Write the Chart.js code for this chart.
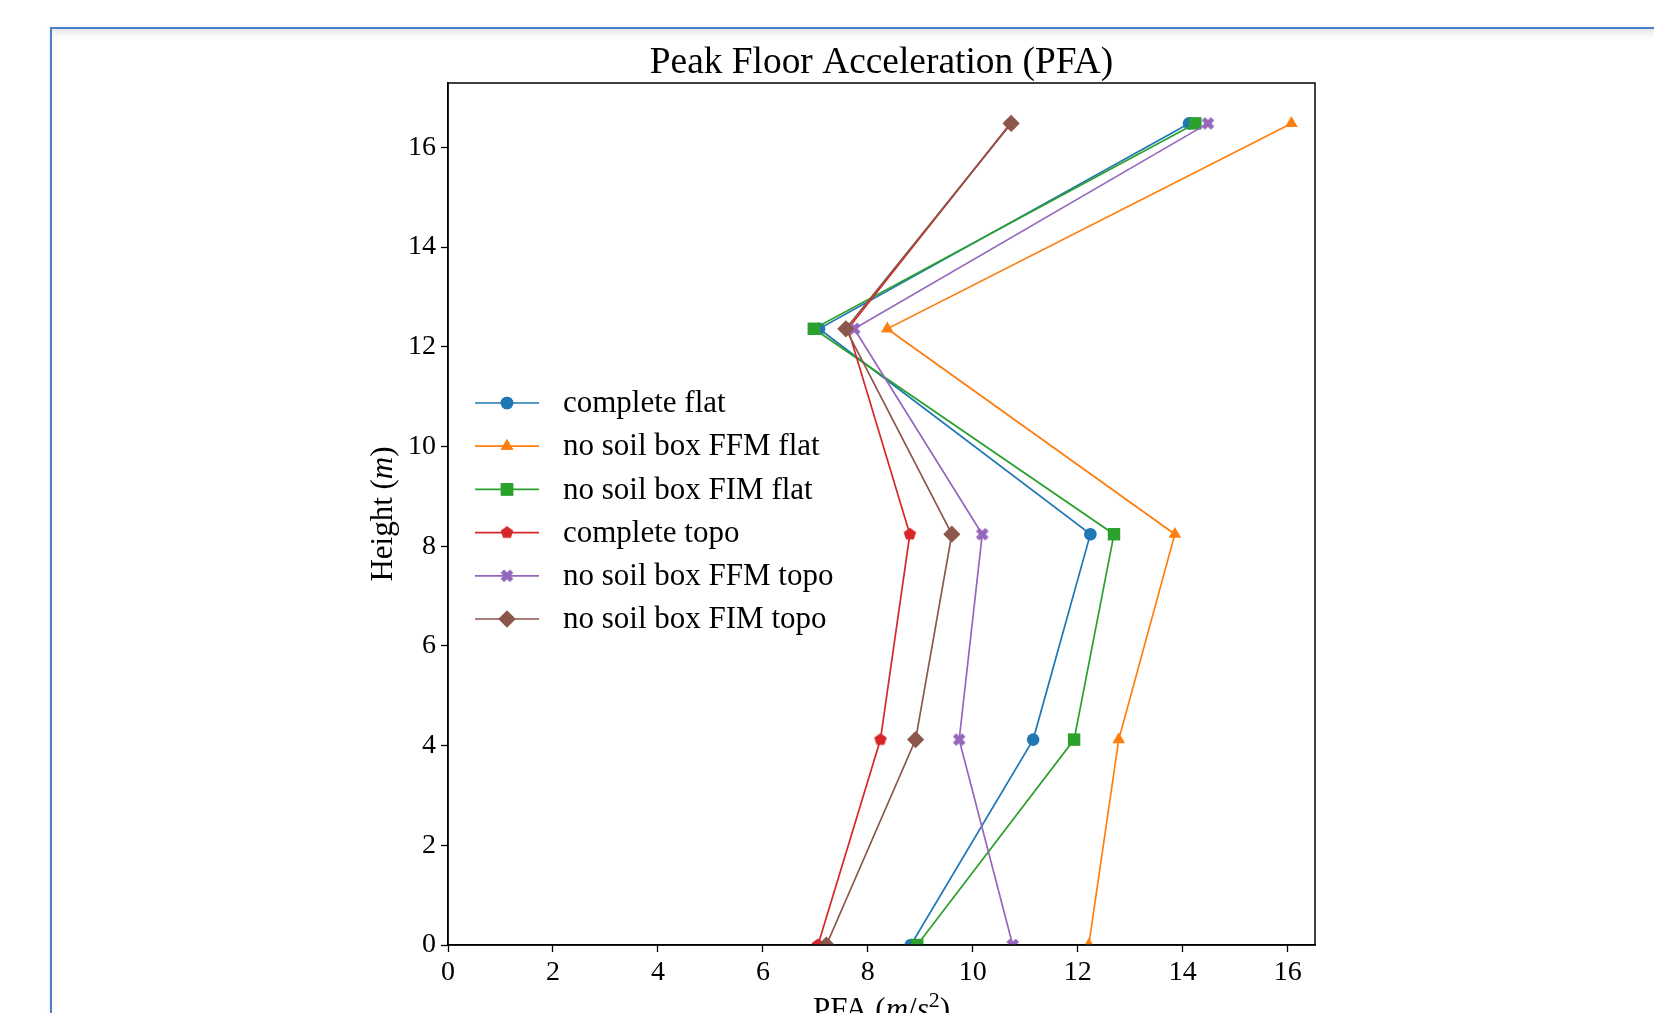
<!DOCTYPE html>
<html>
<head>
<meta charset="utf-8">
<title>Peak Floor Acceleration (PFA)</title>
<script src="https://cdn.jsdelivr.net/npm/chart.js@4.4.1/dist/chart.umd.min.js"></script>
<style>
    html, body {
        margin: 0;
        padding: 0;
        background: #ffffff;
        overflow: hidden;
        width: 1654px;
        height: 1013px;
    }
    .frame {
        position: absolute;
        left: 50px;
        top: 27px;
        width: 1700px;
        height: 1100px;
        border-top: 2px solid #4a7fcb;
        border-left: 2px solid #4a7fcb;
        box-shadow: inset 0 9px 9px -6px rgba(0, 0, 0, 0.13), -1px 0 2px rgba(0, 0, 0, 0.08);
        background: #ffffff;
    }
    #chart {
        position: absolute;
        left: 0;
        top: 0;
    }
</style>
</head>
<body>
<div class="frame"></div>
<canvas id="chart" width="1654" height="1040"></canvas>
<script>
// storey heights (m)
const heights = [0, 4.12, 8.24, 12.36, 16.48];

// PFA values (m/s^2), bottom to top
const completeFlat = [8.82, 11.15, 12.24, 7.07, 14.12];
const noSoilFfmFlat = [12.21, 12.78, 13.85, 8.37, 16.07];
const noSoilFimFlat = [8.94, 11.93, 12.69, 6.97, 14.24];
const completeTopo = [7.05, 8.24, 8.80, 7.62, 10.72];
const noSoilFfmTopo = [10.76, 9.74, 10.18, 7.74, 14.48];
const noSoilFimTopo = [7.21, 8.91, 9.60, 7.58, 10.73];

const seriesLabels = [
    'complete flat',
    'no soil box FFM flat',
    'no soil box FIM flat',
    'complete topo',
    'no soil box FFM topo',
    'no soil box FIM topo',
];
const seriesValues = [completeFlat, noSoilFfmFlat, noSoilFimFlat, completeTopo, noSoilFfmTopo, noSoilFimTopo];
const seriesColors = ['#1f77b4', '#ff7f0e', '#2ca02c', '#d62728', '#9467bd', '#8c564b'];

const xTicks = [0, 2, 4, 6, 8, 10, 12, 14, 16];
const yTicks = [0, 2, 4, 6, 8, 10, 12, 14, 16];

const SERIF = '"Liberation Serif", "DejaVu Serif", serif';

// matplotlib-like markers that Chart.js has no built-in style for
function makeMarker(color, draw) {
    const c = document.createElement('canvas');
    c.width = 18;
    c.height = 18;
    const g = c.getContext('2d');
    g.fillStyle = color;
    g.translate(9, 9);
    g.beginPath();
    draw(g);
    g.closePath();
    g.fill();
    return c;
}

const pentagonMarker = makeMarker(seriesColors[3], g => {
    for (let i = 0; i < 5; i++) {
        const ang = -Math.PI / 2 + i * 2 * Math.PI / 5;
        g.lineTo(6.6 * Math.cos(ang), 6.6 * Math.sin(ang));
    }
});

const filledXMarker = makeMarker(seriesColors[4], g => {
    const a = 6.6, w = 2.4;
    g.rotate(Math.PI / 4);
    [[-w, -a], [w, -a], [w, -w], [a, -w], [a, w], [w, w], [w, a], [-w, a], [-w, w], [-a, w], [-a, -w], [-w, -w]]
        .forEach(p => g.lineTo(p[0], p[1]));
});

const markerStyles = [
    { pointStyle: 'circle', radius: 6.3 },
    { pointStyle: 'triangle', radius: 7.3 },
    { pointStyle: 'rect', radius: 8.8 },
    { pointStyle: pentagonMarker, radius: 7 },
    { pointStyle: filledXMarker, radius: 7 },
    { pointStyle: 'rectRot', radius: 8.6 },
];

const datasets = seriesValues.map((vals, i) => ({
    label: seriesLabels[i],
    data: vals.map((v, k) => ({ x: v, y: heights[k] })),
    borderColor: seriesColors[i],
    backgroundColor: seriesColors[i],
    borderWidth: 1.7,
    pointStyle: markerStyles[i].pointStyle,
    pointRadius: markerStyles[i].radius,
    pointBorderWidth: 0,
    pointBackgroundColor: seriesColors[i],
    pointBorderColor: seriesColors[i],
    tension: 0,
    fill: false,
    // matplotlib draws the last series on top
    order: seriesValues.length - i,
}));

function drawRuns(ctx, runs, x, y) {
    let total = 0;
    runs.forEach(r => {
        ctx.font = r.font;
        total += ctx.measureText(r.text).width;
    });
    let cx = x - total / 2;
    runs.forEach(r => {
        ctx.font = r.font;
        ctx.fillText(r.text, cx, y + (r.dy || 0));
        cx += ctx.measureText(r.text).width;
    });
}

function drawMarker(ctx, style, radius, color, x, y) {
    ctx.save();
    ctx.fillStyle = color;
    ctx.strokeStyle = color;
    if (typeof style !== 'string') {
        ctx.drawImage(style, x - style.width / 2, y - style.height / 2);
    } else {
        Chart.helpers.drawPoint(ctx, { pointStyle: style, radius: radius, rotation: 0, borderWidth: 0 }, x, y);
        ctx.fill();
    }
    ctx.restore();
}

const decorPlugin = {
    id: 'decor',
    afterDatasetsDraw(chart) {
        const { ctx, chartArea: a } = chart;
        ctx.save();
        ctx.strokeStyle = '#000';
        ctx.lineWidth = 1.5;
        ctx.strokeRect(a.left, a.top, a.right - a.left, a.bottom - a.top);
        ctx.restore();
    },
    afterDraw(chart) {
        const { ctx, chartArea: a } = chart;
        const cx = (a.left + a.right) / 2;
        ctx.save();
        ctx.fillStyle = '#000';
        ctx.textBaseline = 'alphabetic';
        ctx.textAlign = 'left';

        // title
        drawRuns(ctx, [{ text: 'Peak Floor Acceleration (PFA)', font: '37.4px ' + SERIF }], cx, 73);

        // x axis label
        const n = '31px ' + SERIF, it = 'italic 31px ' + SERIF, sup = '22px ' + SERIF;
        drawRuns(ctx, [
            { text: 'PFA (', font: n },
            { text: 'm', font: it },
            { text: '/', font: n },
            { text: 's', font: it },
            { text: '2', font: sup, dy: -12 },
            { text: ')', font: n },
        ], cx, 1019);

        // y axis label
        ctx.save();
        ctx.translate(392, (a.top + a.bottom) / 2);
        ctx.rotate(-Math.PI / 2);
        drawRuns(ctx, [
            { text: 'Height (', font: n },
            { text: 'm', font: it },
            { text: ')', font: n },
        ], 0, 0);
        ctx.restore();

        // legend, placed inside the axes like matplotlib
        const lx = a.left + 27, ly = a.top + 320, rowGap = 43.2;
        chart.data.datasets.forEach((ds, i) => {
            const y = ly + i * rowGap;
            ctx.strokeStyle = ds.borderColor;
            ctx.lineWidth = 1.7;
            ctx.beginPath();
            ctx.moveTo(lx, y);
            ctx.lineTo(lx + 64, y);
            ctx.stroke();
            drawMarker(ctx, markerStyles[i].pointStyle, markerStyles[i].radius, ds.borderColor, lx + 32, y);
            ctx.fillStyle = '#000';
            ctx.font = n;
            ctx.textBaseline = 'middle';
            ctx.fillText(ds.label, lx + 88, y + 1);
        });
        ctx.restore();
    },
};

function keepTicks(list) {
    return scale => {
        scale.ticks = list.map(v => ({ value: v }));
    };
}

new Chart(document.getElementById('chart'), {
    type: 'line',
    data: { datasets },
    options: {
        responsive: false,
        animation: false,
        devicePixelRatio: 1,
        layout: {
            padding: { left: 0, right: 339, top: 83, bottom: 0 },
        },
        plugins: {
            legend: { display: false },
            title: { display: false },
            tooltip: { enabled: false },
        },
        scales: {
            x: {
                type: 'linear',
                min: 0,
                max: 16.52,
                afterBuildTicks: keepTicks(xTicks),
                afterFit: scale => { scale.height = 95; },
                grid: {
                    drawOnChartArea: false,
                    drawTicks: true,
                    tickLength: 7,
                    tickColor: '#000',
                    tickWidth: 1.3,
                },
                border: { display: true, color: '#000', width: 1.5 },
                ticks: {
                    color: '#000',
                    font: { family: SERIF, size: 28 },
                    padding: 4,
                    maxRotation: 0,
                    autoSkip: false,
                },
            },
            y: {
                type: 'linear',
                min: 0,
                max: 17.29,
                afterBuildTicks: keepTicks(yTicks),
                afterFit: scale => { scale.width = 448; },
                grid: {
                    drawOnChartArea: false,
                    drawTicks: true,
                    tickLength: 7,
                    tickColor: '#000',
                    tickWidth: 1.3,
                },
                border: { display: true, color: '#000', width: 1.5 },
                ticks: {
                    color: '#000',
                    font: { family: SERIF, size: 28 },
                    padding: 5,
                    autoSkip: false,
                },
            },
        },
    },
    plugins: [decorPlugin],
});
</script>
</body>
</html>
